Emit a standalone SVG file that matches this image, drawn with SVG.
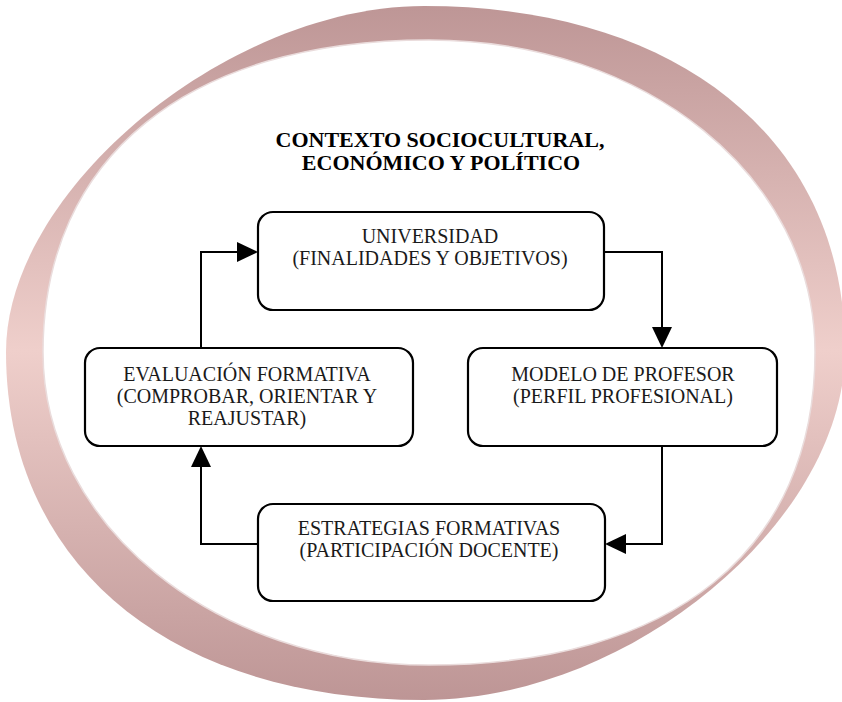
<svg xmlns="http://www.w3.org/2000/svg" width="842" height="702" viewBox="0 0 842 702">
  <defs>
    <linearGradient id="ringGrad" gradientUnits="userSpaceOnUse" x1="0" y1="0" x2="0" y2="702">
      <stop offset="0" stop-color="#bd9595"/>
      <stop offset="0.5" stop-color="#efcfcb"/>
      <stop offset="1" stop-color="#bd9595"/>
    </linearGradient>
    <marker id="arrow" markerUnits="userSpaceOnUse" markerWidth="22" markerHeight="22" viewBox="0 0 22 22" refX="17" refY="11" orient="auto">
      <path d="M0,1 L21,11 L0,21 Z" fill="#000"/>
    </marker>
    <style>
      .box { fill: #ffffff; stroke: #000000; stroke-width: 2.2; }
      .lbl { font-family: "Liberation Serif", "Times New Roman", serif; font-size: 20px; fill: #1a1a1a; text-anchor: middle; }
      .title { font-family: "Liberation Serif", "Times New Roman", serif; font-size: 22px; font-weight: bold; fill: #000; text-anchor: middle; }
      .conn { fill: none; stroke: #000; stroke-width: 2; }
    </style>
  </defs>

  <g id="context-ring">
    <path d="M424,6 C680,6 845,141 845,350 C845,521 630,700 424,700 C170,700 6,564 6,352 C6,190 228,6 424,6 Z" fill="url(#ringGrad)"/>
    <path d="M429,40 C646,40 815,177 815,352 C815,550 673,665 429,665 C216,665 43,525 43,352 C43,157 188,40 429,40 Z" fill="#ffffff" stroke="#eadcdc" stroke-width="1.5"/>
  </g>

  <g id="title">
    <text class="title" x="440" y="147">CONTEXTO SOCIOCULTURAL,</text>
    <text class="title" x="441" y="170">ECONÓMICO Y POLÍTICO</text>
  </g>

  <g id="connectors">
    <path class="conn" d="M201,348 L201,252 L254,252" marker-end="url(#arrow)"/>
    <path class="conn" d="M604,252 L662,252 L662,344" marker-end="url(#arrow)"/>
    <path class="conn" d="M662,446 L662,544 L609,544" marker-end="url(#arrow)"/>
    <path class="conn" d="M258,544 L201,544 L201,450" marker-end="url(#arrow)"/>
  </g>

  <g id="universidad">
    <rect class="box" x="258" y="212" width="346" height="98" rx="15"/>
    <text class="lbl" x="430" y="243">UNIVERSIDAD</text>
    <text class="lbl" x="430" y="265">(FINALIDADES Y OBJETIVOS)</text>
  </g>

  <g id="modelo-profesor">
    <rect class="box" x="468" y="348" width="309" height="98" rx="15"/>
    <text class="lbl" x="623" y="381">MODELO DE PROFESOR</text>
    <text class="lbl" x="623" y="403">(PERFIL PROFESIONAL)</text>
  </g>

  <g id="estrategias">
    <rect class="box" x="258" y="504" width="347" height="97" rx="15"/>
    <text class="lbl" x="429" y="535">ESTRATEGIAS FORMATIVAS</text>
    <text class="lbl" x="429" y="557">(PARTICIPACIÓN DOCENTE)</text>
  </g>

  <g id="evaluacion">
    <rect class="box" x="85" y="348" width="328" height="98" rx="15"/>
    <text class="lbl" x="247" y="381">EVALUACIÓN FORMATIVA</text>
    <text class="lbl" x="247" y="403">(COMPROBAR, ORIENTAR Y</text>
    <text class="lbl" x="247" y="425">REAJUSTAR)</text>
  </g>
</svg>
